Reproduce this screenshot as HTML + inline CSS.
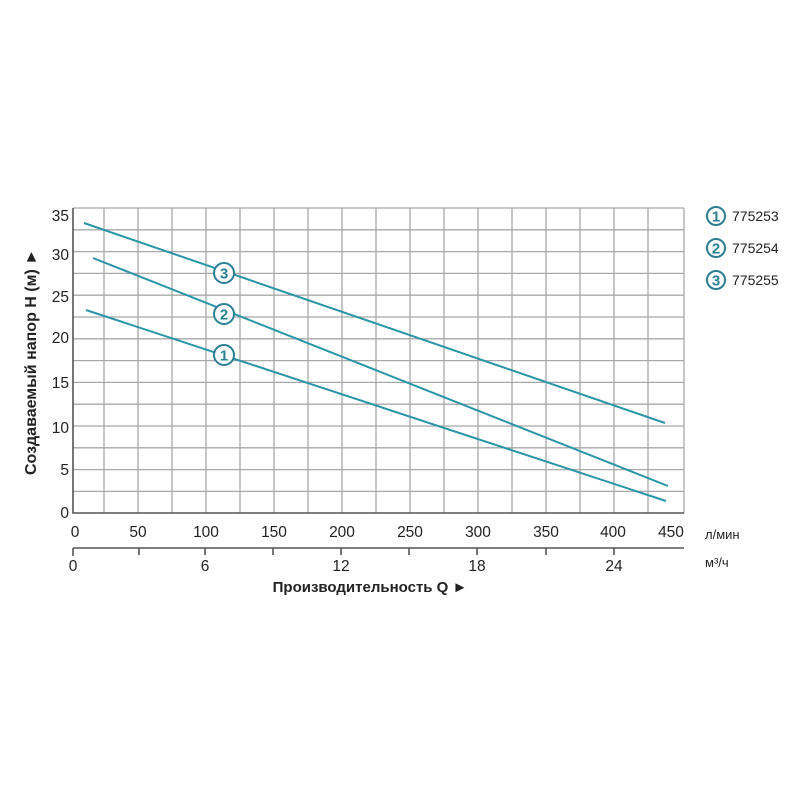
<!DOCTYPE html>
<html><head><meta charset="utf-8"><style>
html,body{margin:0;padding:0;background:#fff;}
svg{display:block;font-family:"Liberation Sans",Arial,sans-serif;}
</style></head><body>
<svg width="800" height="800" viewBox="0 0 800 800" xmlns="http://www.w3.org/2000/svg">
<g stroke="#a8a8a8" stroke-width="1.3">
<line x1="104" y1="208" x2="104" y2="513"/><line x1="138" y1="208" x2="138" y2="513"/>
<line x1="172" y1="208" x2="172" y2="513"/><line x1="206" y1="208" x2="206" y2="513"/>
<line x1="240" y1="208" x2="240" y2="513"/><line x1="274" y1="208" x2="274" y2="513"/>
<line x1="308" y1="208" x2="308" y2="513"/><line x1="342" y1="208" x2="342" y2="513"/>
<line x1="376" y1="208" x2="376" y2="513"/><line x1="410" y1="208" x2="410" y2="513"/>
<line x1="444" y1="208" x2="444" y2="513"/><line x1="478" y1="208" x2="478" y2="513"/>
<line x1="512" y1="208" x2="512" y2="513"/><line x1="546" y1="208" x2="546" y2="513"/>
<line x1="580" y1="208" x2="580" y2="513"/><line x1="614" y1="208" x2="614" y2="513"/>
<line x1="648" y1="208" x2="648" y2="513"/><line x1="684" y1="208" x2="684" y2="513"/>
<line x1="73" y1="208" x2="684" y2="208"/><line x1="73" y1="229.8" x2="684" y2="229.8"/>
<line x1="73" y1="251.6" x2="684" y2="251.6"/><line x1="73" y1="273.4" x2="684" y2="273.4"/>
<line x1="73" y1="295.2" x2="684" y2="295.2"/><line x1="73" y1="317" x2="684" y2="317"/>
<line x1="73" y1="338.8" x2="684" y2="338.8"/><line x1="73" y1="360.6" x2="684" y2="360.6"/>
<line x1="73" y1="382.4" x2="684" y2="382.4"/><line x1="73" y1="404.2" x2="684" y2="404.2"/>
<line x1="73" y1="426" x2="684" y2="426"/><line x1="73" y1="447.8" x2="684" y2="447.8"/>
<line x1="73" y1="469.6" x2="684" y2="469.6"/><line x1="73" y1="491.4" x2="684" y2="491.4"/>
</g>
<g stroke="#555" stroke-width="1.6" fill="none">
<polyline points="73,208 73,513 684,513"/>
<line x1="73" y1="548" x2="684" y2="548"/>
<line x1="73" y1="548" x2="73" y2="556"/><line x1="139" y1="548" x2="139" y2="555"/>
<line x1="205" y1="548" x2="205" y2="555"/><line x1="273" y1="548" x2="273" y2="555"/>
<line x1="341" y1="548" x2="341" y2="555"/><line x1="409" y1="548" x2="409" y2="555"/>
<line x1="477" y1="548" x2="477" y2="555"/><line x1="546" y1="548" x2="546" y2="555"/>
<line x1="614" y1="548" x2="614" y2="555"/>
</g>
<g stroke="#2a94a8" stroke-width="2" fill="none">
<line x1="84" y1="223" x2="665" y2="423"/>
<line x1="93" y1="258" x2="668" y2="486"/>
<line x1="86" y1="310" x2="666" y2="501"/>
</g>
<g fill="#fff" stroke="#2a7f92" stroke-width="2">
<circle cx="224" cy="273" r="10"/><circle cx="224" cy="314" r="10"/><circle cx="224" cy="355" r="10"/>
<circle cx="716" cy="216" r="9"/><circle cx="716" cy="248" r="9"/><circle cx="716" cy="280" r="9"/>
</g>
<g fill="#2a7f92" font-size="15" font-weight="bold" text-anchor="middle">
<text x="224" y="278.5">3</text><text x="224" y="319.5">2</text><text x="224" y="360.5">1</text>
<text x="716" y="221.5">1</text><text x="716" y="253.5">2</text><text x="716" y="285.5">3</text>
</g>
<g fill="#222" font-size="14">
<text x="732" y="221">775253</text><text x="732" y="253">775254</text><text x="732" y="285">775255</text>
</g>
<g fill="#222" font-size="15.5" text-anchor="end">
<text x="69" y="221">35</text><text x="69" y="260">30</text><text x="69" y="302">25</text>
<text x="69" y="343">20</text><text x="69" y="388">15</text><text x="69" y="433">10</text>
<text x="69" y="475">5</text><text x="69" y="518">0</text>
</g>
<g fill="#222" font-size="15.5" text-anchor="middle">
<text x="75" y="537">0</text><text x="138" y="537">50</text><text x="206" y="537">100</text>
<text x="274" y="537">150</text><text x="342" y="537">200</text><text x="410" y="537">250</text>
<text x="478" y="537">300</text><text x="546" y="537">350</text><text x="613" y="537">400</text>
<text x="671" y="537">450</text>
<text x="73" y="571">0</text><text x="205" y="571">6</text><text x="341" y="571">12</text>
<text x="477" y="571">18</text><text x="614" y="571">24</text>
</g>
<text x="705" y="539" font-size="13" fill="#222">л/мин</text>
<text x="705" y="567" font-size="13" fill="#222">м³/ч</text>
<text x="370" y="592" font-size="15" font-weight="bold" fill="#222" text-anchor="middle">Производительность Q ►</text>
<text transform="translate(36,362) rotate(-90)" font-size="16" font-weight="bold" fill="#222" text-anchor="middle">Создаваемый напор H (м) ►</text>
</svg>
</body></html>
